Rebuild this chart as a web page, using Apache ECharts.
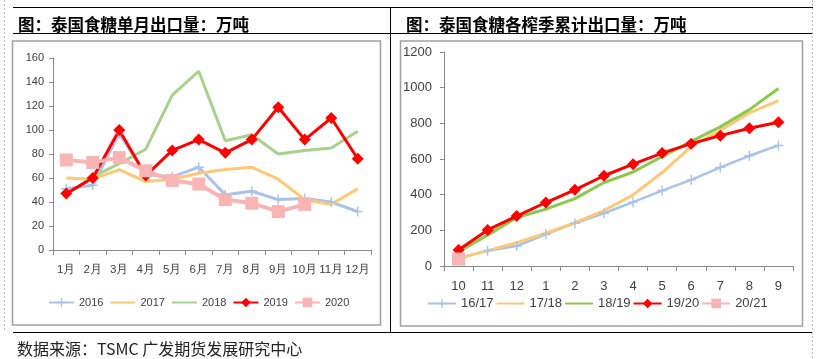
<!DOCTYPE html>
<html><head><meta charset="utf-8">
<script src="https://cdn.jsdelivr.net/npm/echarts@6/dist/echarts.min.js"></script>
<style>html,body{margin:0;padding:0;background:#fff;}#c{width:821px;height:359px;}</style>
</head><body><div id="c"></div>
<script>
// Left chart: monthly exports (万吨)
const monthCats = ['1月','2月','3月','4月','5月','6月','7月','8月','9月','10月','11月','12月'];
const y2016 = [51, 54, 97, 63, 61, 69, 46, 49, 42, 43, 40, 32];
const y2017 = [60, 59, 67, 57, 59, 64, 67, 69, 59, 42, 38, 51];
const y2018 = [46, 61, 72, 84, 129, 149, 91, 96, 80, 83, 85, 99];
const y2019 = [47, 60, 100, 62, 83, 92, 81, 92, 119, 92, 110, 76];
const y2020 = [75, 73, 77, 66, 58, 55, 42, 39, 32, 38];
const leftYTicks = [0, 20, 40, 60, 80, 100, 120, 140, 160];

// Right chart: cumulative exports by crushing season (万吨)
const seasonCats = ['10','11','12','1','2','3','4','5','6','7','8','9'];
const s1617 = [45, 86, 112, 178, 240, 296, 358, 423, 483, 553, 618, 676];
const s1718 = [43, 86, 131, 184, 243, 311, 399, 524, 670, 760, 858, 927];
const s1819 = [80, 173, 272, 319, 378, 468, 527, 614, 699, 780, 877, 995];
const s1920 = [90, 202, 280, 356, 427, 506, 571, 633, 686, 731, 772, 806];
const s2021 = [39];
const rightYTicks = [0, 200, 400, 600, 800, 1000, 1200];

const PLUS = 'path://M4.3,0 L5.7,0 L5.7,4.3 L10,4.3 L10,5.7 L5.7,5.7 L5.7,10 L4.3,10 L4.3,5.7 L0,5.7 L0,4.3 L4.3,4.3 Z';
const C_BLUE = '#a9c3e8', C_ORANGE = '#ffc876', C_GREEN_L = '#a9d18e', C_GREEN_R = '#8cc84b', C_RED = '#ff0000', C_PINK = '#f9b4b4';
const AX = '#898989', TXT = '#404040';
const FONT = 'Liberation Sans';

function mkLine(name, data, color, width, symbol, size, xi) {
  return {
    name, type: 'line', data, xAxisIndex: xi, yAxisIndex: xi,
    symbol: symbol || 'none', symbolSize: size || 0, showSymbol: !!symbol,
    lineStyle: { color, width }, itemStyle: { color, borderWidth: 0 },
    emphasis: { disabled: true }, animation: false, z: 2
  };
}
function xAx(cats, gi, fs, margin) {
  return {
    type: 'category', data: cats, gridIndex: gi, boundaryGap: true,
    axisLine: { lineStyle: { color: AX, width: 1 } },
    axisTick: { show: true, length: 5, lineStyle: { color: AX } },
    axisLabel: { color: TXT, fontSize: fs, fontFamily: FONT, margin, interval: 0 },
    splitLine: { show: false }
  };
}
function yAx(ticks, gi, fs, margin) {
  return {
    type: 'value', gridIndex: gi, min: ticks[0], max: ticks[ticks.length - 1],
    interval: ticks[1] - ticks[0],
    axisLine: { show: true, lineStyle: { color: AX, width: 1 } },
    axisTick: { show: true, length: 4, lineStyle: { color: AX } },
    axisLabel: { color: TXT, fontSize: fs, fontFamily: FONT, margin, formatter: v => String(v) },
    splitLine: { show: false }
  };
}
function legItem(name, hasSymbol) {
  return hasSymbol ? { name } : { name, itemStyle: { opacity: 0 } };
}

const chart = echarts.init(document.getElementById('c'), null, { renderer: 'canvas' });
chart.setOption({
  backgroundColor: '#fff',
  animation: false,
  title: [
    { text: '图：泰国食糖单月出口量：万吨', left: 13, top: 11,
      textStyle: { fontSize: 16.5, fontWeight: 'bold', color: '#000', fontFamily: 'Noto Sans CJK SC' } },
    { text: '图：泰国食糖各榨季累计出口量：万吨', left: 401, top: 11,
      textStyle: { fontSize: 16.5, fontWeight: 'bold', color: '#000', fontFamily: 'Noto Sans CJK SC' } },
    { text: '数据来源：TSMC 广发期货发展研究中心', left: 12, top: 336,
      textStyle: { fontSize: 16, fontWeight: 'normal', color: '#222', fontFamily: 'Noto Sans CJK SC' } }
  ],
  graphic: [
    { type: 'line', shape: { x1: 13, y1: 7.5, x2: 813, y2: 7.5 }, style: { stroke: '#000', lineWidth: 1 }, silent: true },
    { type: 'line', shape: { x1: 13, y1: 33.5, x2: 813, y2: 33.5 }, style: { stroke: '#000', lineWidth: 1 }, silent: true },
    { type: 'line', shape: { x1: 13, y1: 332.5, x2: 813, y2: 332.5 }, style: { stroke: '#000', lineWidth: 1 }, silent: true },
    { type: 'line', shape: { x1: 390.5, y1: 7, x2: 390.5, y2: 333 }, style: { stroke: '#000', lineWidth: 1 }, silent: true },
    { type: 'line', shape: { x1: 4.5, y1: 0, x2: 4.5, y2: 332 }, style: { stroke: '#bbb', lineWidth: 1, lineDash: [2, 2] }, silent: true },
    { type: 'line', shape: { x1: 812.5, y1: 0, x2: 812.5, y2: 359 }, style: { stroke: '#bbb', lineWidth: 1, lineDash: [2, 2] }, silent: true },
    { type: 'rect', shape: { x: 12.5, y: 41, width: 368, height: 284 }, style: { fill: 'none', stroke: '#a0a0a0', lineWidth: 1.5 }, silent: true },
    { type: 'rect', shape: { x: 400.5, y: 41, width: 402, height: 285 }, style: { fill: 'none', stroke: '#a0a0a0', lineWidth: 1.5 }, silent: true }
  ],
  legend: [
    { data: [legItem('2016', 1), legItem('2017', 0), legItem('2018', 0), legItem('2019', 1), legItem('2020', 1)],
      left: 48, top: 297, itemWidth: 25, itemHeight: 12, itemGap: 6,
      textStyle: { color: TXT, fontSize: 11, fontFamily: FONT }, selectedMode: false, padding: 0 },
    { data: [legItem('16/17', 1), legItem('17/18', 0), legItem('18/19', 0), legItem('19/20', 1), legItem('20/21', 1)],
      left: 427, top: 297, itemWidth: 28, itemHeight: 12, itemGap: 2,
      textStyle: { color: TXT, fontSize: 13, fontFamily: FONT }, selectedMode: false, padding: 0 }
  ],
  grid: [
    { left: 53, right: 450, top: 58, bottom: 109, containLabel: false },
    { left: 444, right: 28, top: 52, bottom: 93, containLabel: false }
  ],
  xAxis: [xAx(monthCats, 0, 11.5, 14), xAx(seasonCats, 1, 13, 14)],
  yAxis: [yAx(leftYTicks, 0, 11, 9), yAx(rightYTicks, 1, 13, 12)],
  series: [
    mkLine('2016', y2016, C_BLUE, 3, PLUS, 10, 0),
    mkLine('2017', y2017, C_ORANGE, 3, null, 0, 0),
    mkLine('2018', y2018, C_GREEN_L, 3, null, 0, 0),
    mkLine('2019', y2019, C_RED, 3, 'diamond', 12, 0),
    mkLine('2020', y2020, C_PINK, 4, 'rect', 13, 0),
    mkLine('16/17', s1617, C_BLUE, 2.5, PLUS, 10, 1),
    mkLine('17/18', s1718, C_ORANGE, 3, null, 0, 1),
    mkLine('18/19', s1819, C_GREEN_R, 3, null, 0, 1),
    mkLine('19/20', s1920, C_RED, 3, 'diamond', 12, 1),
    mkLine('20/21', s2021, C_PINK, 4, 'rect', 13, 1)
  ]
});
</script></body></html>
